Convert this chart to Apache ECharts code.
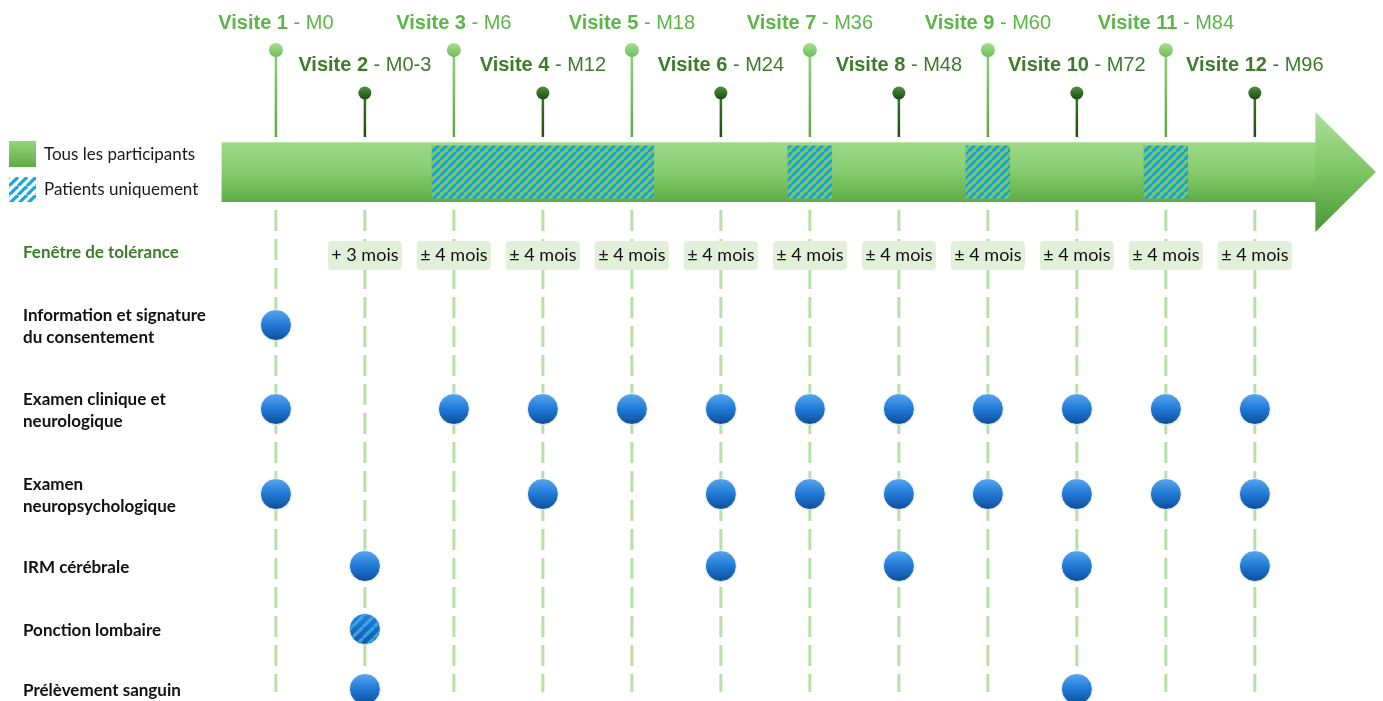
<!DOCTYPE html>
<html><head><meta charset="utf-8">
<script src="https://cdn.jsdelivr.net/npm/echarts@6/dist/echarts.min.js"></script>
<style>html,body{margin:0;padding:0;background:#fff}#c{width:1383px;height:701px}</style>
</head><body><div id="c"></div>
<script>
// ---------- DATA ----------
const visits = [1, 2, 3, 4, 5, 6, 7, 8, 9, 10, 11, 12];
const visitMonths = ['M0', 'M0-3', 'M6', 'M12', 'M18', 'M24', 'M36', 'M48', 'M60', 'M72', 'M84', 'M96'];
const tolerance = ['', '+ 3 mois', '± 4 mois', '± 4 mois', '± 4 mois', '± 4 mois', '± 4 mois', '± 4 mois', '± 4 mois', '± 4 mois', '± 4 mois', '± 4 mois'];
const activities = ['Information et signature\ndu consentement', 'Examen clinique et\nneurologique', 'Examen\nneuropsychologique', 'IRM cérébrale', 'Ponction lombaire', 'Prélèvement sanguin'];
const infoVisits = [1];
const cliniqueVisits = [1, 3, 4, 5, 6, 7, 8, 9, 10, 11, 12];
const neuroVisits = [1, 4, 6, 7, 8, 9, 10, 11, 12];
const irmVisits = [2, 6, 8, 10, 12];
const ponctionVisits = [2];
const sangVisits = [2, 10];
const scheduleByActivity = [infoVisits, cliniqueVisits, neuroVisits, irmVisits, ponctionVisits, sangVisits];
const patientOnlyActivity = [false, false, false, false, true, false];
const patientOnlyRanges = [[3, 5], [7, 7], [9, 9], [11, 11]];
const legendLabels = ['Tous les participants', 'Patients uniquement'];
const toleranceTitle = 'Fenêtre de tolérance';

// ---------- LAYOUT (vertical layout units, not data) ----------
const L = {
  labelOdd: 23.5, labelEven: 65.5, ballOdd: 50, ballEven: 93, stemEnd: 137,
  bandTop: 142, bandBot: 202, headTop: 112, headBot: 232,
  bodyStart: 0.39, bodyEnd: 12.68, tip: 13.36, hatchPad: 0.25,
  dashTop: 210, dashBot: 692, tolY: 255,
  rowY: [325, 409, 494, 566, 629, 689]
};

function stripes(bg, fg, size, w) {
  const c = document.createElement('canvas');
  c.width = c.height = size;
  const g = c.getContext('2d');
  if (bg) { g.fillStyle = bg; g.fillRect(0, 0, size, size); }
  g.strokeStyle = fg; g.lineWidth = w;
  for (let k = -1; k <= 1; k++) {
    g.beginPath(); g.moveTo(k * size, size); g.lineTo(k * size + size, 0); g.stroke();
  }
  return c;
}
const hatchBand = { image: stripes('#7cc664', '#12a0de', 8, 2.8), repeat: 'repeat' };
const hatchLegend = { image: stripes('#ffffff', '#16a6e2', 9, 3.2), repeat: 'repeat' };
const hatchDot = { image: stripes(null, 'rgba(60,175,235,0.85)', 11, 3.2), repeat: 'repeat' };

const lg = (stops) => ({ type: 'linear', x: 0, y: 0, x2: 0, y2: 1, colorStops: stops.map((c, i) => ({ offset: i / (stops.length - 1), color: c })) });
const dotGrad = lg(['#5aa9f0', '#2079d6', '#0d4d96']);

const chart = echarts.init(document.getElementById('c'), null, { renderer: 'canvas' });

const scatterNormal = [];
const scatterPatient = [];
scheduleByActivity.forEach((vs, i) => vs.forEach(v => (patientOnlyActivity[i] ? scatterPatient : scatterNormal).push([v, L.rowY[i]])));

const option = {
  animation: false,
  grid: { left: 0, right: 0, top: 0, bottom: 0 },
  xAxis: { type: 'value', min: -2.1, max: 13.44, show: false },
  yAxis: { type: 'value', min: 0, max: 701, inverse: true, show: false },
  graphic: [
    { type: 'rect', left: 9, top: 141, shape: { width: 27, height: 26 }, style: { fill: lg(['#94d57e', '#5fab46']) } },
    { type: 'text', left: 44, top: 146.5, style: { text: legendLabels[0], font: '17px Lato', fill: '#1a1a1a' } },
    { type: 'rect', left: 9, top: 177, shape: { width: 27, height: 25 }, style: { fill: hatchLegend } },
    { type: 'text', left: 44, top: 181.5, style: { text: legendLabels[1], font: '17px Lato', fill: '#1a1a1a' } }
  ],
  series: [
    { // dashed guide lines
      type: 'custom', data: visits.map(v => [v]), silent: true,
      renderItem: (p, api) => {
        const a = api.coord([api.value(0), L.dashTop]), b = api.coord([api.value(0), L.dashBot]);
        return { type: 'line', shape: { x1: a[0], y1: a[1], x2: b[0], y2: b[1] }, style: { stroke: '#b6e1a6', lineWidth: 3, lineDash: [21, 8] } };
      }
    },
    { // arrow
      type: 'custom', data: [[0]], silent: true,
      renderItem: (p, api) => {
        const s = api.coord([L.bodyStart, L.bandTop]), e = api.coord([L.bodyEnd, L.bandBot]);
        const ht = api.coord([L.bodyEnd, L.headTop]), hb = api.coord([L.bodyEnd, L.headBot]);
        const tip = api.coord([L.tip, (L.bandTop + L.bandBot) / 2]);
        return { type: 'group', children: [
          { type: 'rect', shape: { x: s[0], y: s[1], width: e[0] - s[0] + 1, height: e[1] - s[1] }, style: { fill: lg(['#9fd98b', '#86cc6e', '#5fab46']) } },
          { type: 'line', shape: { x1: s[0], y1: s[1] + 0.5, x2: e[0], y2: s[1] + 0.5 }, style: { stroke: '#b8e4a8', lineWidth: 1 } },
          { type: 'polygon', shape: { points: [[ht[0], ht[1]], [tip[0], tip[1]], [hb[0], hb[1]]] }, style: { fill: lg(['#aee09b', '#7cc664', '#4a9536']) } }
        ] };
      }
    },
    { // patients-only hatched ranges
      type: 'custom', data: patientOnlyRanges, silent: true,
      renderItem: (p, api) => {
        const a = api.coord([api.value(0) - L.hatchPad, L.bandTop + 3.5]);
        const b = api.coord([api.value(1) + L.hatchPad, L.bandBot - 3.5]);
        return { type: 'rect', shape: { x: a[0], y: a[1], width: b[0] - a[0], height: b[1] - a[1] }, style: { fill: hatchBand } };
      }
    },
    { // lollipops with visit labels
      type: 'custom', data: visits.map(v => [v]), silent: true,
      renderItem: (p, api) => {
        const v = api.value(0), odd = v % 2 === 1;
        const b = api.coord([v, odd ? L.ballOdd : L.ballEven]);
        const s = api.coord([v, L.stemEnd]);
        const t = api.coord([v, odd ? L.labelOdd : L.labelEven]);
        const textCol = odd ? '#5db548' : '#3b7d2a';
        return { type: 'group', children: [
          { type: 'line', shape: { x1: b[0], y1: b[1], x2: s[0], y2: s[1] }, style: { stroke: odd ? lg(['#8fd37a', '#5ea846']) : lg(['#3a7a27', '#1f4e14']), lineWidth: 2.5 } },
          { type: 'circle', shape: { cx: b[0], cy: b[1], r: odd ? 7 : 6.5 }, style: { fill: odd ? lg(['#a8de92', '#6dbb55']) : lg(['#4f9039', '#1d4a12']) } },
          { type: 'text', x: t[0], y: t[1], style: {
            text: '{b|Visite ' + v + '}{n| - ' + visitMonths[v - 1] + '}',
            rich: { b: { fontWeight: 'bold', fontSize: 20, fontFamily: 'Liberation Sans', fill: textCol },
                    n: { fontSize: 20, fontFamily: 'Liberation Sans', fill: textCol } },
            align: 'center', verticalAlign: 'middle' } }
        ] };
      }
    },
    { // tolerance boxes
      type: 'custom', data: visits.map(v => [v]), silent: true,
      renderItem: (p, api) => {
        const v = api.value(0), label = tolerance[v - 1];
        if (!label) return null;
        const c = api.coord([v, L.tolY]);
        return { type: 'group', children: [
          { type: 'rect', shape: { x: c[0] - 37, y: c[1] - 14, width: 74, height: 29, r: 4 }, style: { fill: '#e2f0d9' } },
          { type: 'text', x: c[0], y: c[1], style: { text: label, font: '18px Lato', fill: '#111', align: 'center', verticalAlign: 'middle' } }
        ] };
      }
    },
    { // row labels
      type: 'custom', data: activities.map((a, i) => [i]), silent: true,
      renderItem: (p, api) => {
        const i = api.value(0);
        const c = api.coord([-2.1, L.rowY[i]]);
        return { type: 'text', x: c[0] + 23, y: c[1] + 1.5, style: { text: activities[i], font: 'bold 17px Lato', lineHeight: 22, fill: '#111', align: 'left', verticalAlign: 'middle' } };
      }
    },
    { // tolerance title
      type: 'custom', data: [[0]], silent: true,
      renderItem: (p, api) => {
        const c = api.coord([-2.1, L.tolY - 2]);
        return { type: 'text', x: c[0] + 23, y: c[1], style: { text: toleranceTitle, font: 'bold 17px Lato', fill: '#3b7d2a', align: 'left', verticalAlign: 'middle' } };
      }
    },
    { // schedule dots
      type: 'scatter', data: scatterNormal, symbolSize: 31, silent: true,
      itemStyle: { color: dotGrad, borderColor: 'rgba(255,255,255,0.85)', borderWidth: 1, opacity: 1 }
    },
    { // patients-only dots (hatched)
      type: 'custom', data: scatterPatient, silent: true,
      renderItem: (p, api) => {
        const c = api.coord([api.value(0), api.value(1)]);
        return { type: 'group', children: [
          { type: 'circle', shape: { cx: c[0], cy: c[1], r: 15.5 }, style: { fill: lg(['#2a82da', '#1a6cc4', '#15599f']), stroke: 'rgba(255,255,255,0.85)', lineWidth: 1 } },
          { type: 'circle', shape: { cx: c[0], cy: c[1], r: 14.5 }, style: { fill: hatchDot } }
        ] };
      }
    }
  ]
};
chart.setOption(option);
</script>
</body></html>
